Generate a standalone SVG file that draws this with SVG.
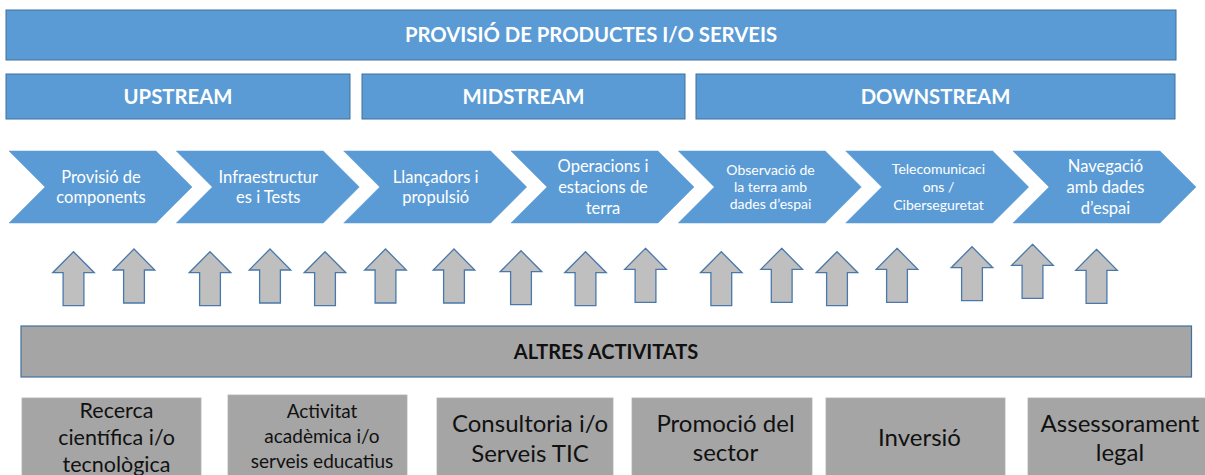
<svg xmlns="http://www.w3.org/2000/svg" xmlns:xlink="http://www.w3.org/1999/xlink" width="1205" height="475" viewBox="0 0 1205 475">
<style>
.band{fill:#5b9bd5;stroke:#41719c;stroke-width:1}
.chev{fill:#5b9bd5;stroke:#5b9bd5;stroke-width:0.5}
.hdr{font-family:Lato,"Liberation Sans",sans-serif;font-weight:bold;fill:#ffffff;text-anchor:middle;font-size:20.3px}
.ct{font-family:Lato,"Liberation Sans",sans-serif;fill:#ffffff;text-anchor:middle;font-size:16.5px}
.cs{font-family:Lato,"Liberation Sans",sans-serif;fill:#ffffff;text-anchor:middle;font-size:14px}
.up{fill:#bfbfbf;stroke:#4a78aa;stroke-width:1.3}
.gbar{fill:#a5a5a5;stroke:#41719c;stroke-width:1.2}
.gbox{fill:#a5a5a5;stroke:#b0b0b0;stroke-width:0.8}
.bt{font-family:Lato,"Liberation Sans",sans-serif;fill:#111111;text-anchor:middle}
</style>
<defs>
<path id="uparrow" class="up" d="M0,0 L20.8,21 L10.4,21 L10.4,54 L-10.4,54 L-10.4,21 L-20.8,21 Z"/>
</defs>

<g id="provisio">
<rect class="band" x="6" y="10" width="1170" height="50"/>
<text class="hdr" x="591" y="42">PROVISIÓ DE PRODUCTES I/O SERVEIS</text>
</g>
<g id="upstream">
<rect class="band" x="6" y="74" width="344" height="45"/>
<text class="hdr" x="178" y="104">UPSTREAM</text>
</g>
<g id="midstream">
<rect class="band" x="362" y="74" width="323" height="45"/>
<text class="hdr" x="523.5" y="104">MIDSTREAM</text>
</g>
<g id="downstream">
<rect class="band" x="696" y="74" width="479" height="45"/>
<text class="hdr" x="935.5" y="104">DOWNSTREAM</text>
</g>

<g id="chev1">
<path class="chev" d="M9,151 L156,151 L192,187 L156,223 L9,223 L45,187 Z"/>
<text class="ct" x="101" y="183">Provisió de</text>
<text class="ct" x="101" y="203">components</text>
</g>
<g id="chev2">
<path class="chev" d="M176.3,151 L323.3,151 L359.3,187 L323.3,223 L176.3,223 L212.3,187 Z"/>
<text class="ct" x="268.3" y="183">Infraestructur</text>
<text class="ct" x="268.3" y="203">es i Tests</text>
</g>
<g id="chev3">
<path class="chev" d="M343.7,151 L490.7,151 L526.7,187 L490.7,223 L343.7,223 L379.7,187 Z"/>
<text class="ct" x="435.7" y="183">Llançadors i</text>
<text class="ct" x="435.7" y="203">propulsió</text>
</g>
<g id="chev4">
<path class="chev" d="M511,151 L658,151 L694,187 L658,223 L511,223 L547,187 Z"/>
<text class="ct" x="603" y="172">Operacions i</text>
<text class="ct" x="603" y="193">estacions de</text>
<text class="ct" x="603" y="214">terra</text>
</g>
<g id="chev5">
<path class="chev" d="M678.3,151 L825.3,151 L861.3,187 L825.3,223 L678.3,223 L714.3,187 Z"/>
<text class="cs" x="770.5" y="175">Observació de</text>
<text class="cs" x="770.5" y="192">la terra amb</text>
<text class="cs" x="770.5" y="209">dades d’espai</text>
</g>
<g id="chev6">
<path class="chev" d="M845.7,151 L992.7,151 L1028.7,187 L992.7,223 L845.7,223 L881.7,187 Z"/>
<text class="cs" x="938.5" y="174">Telecomunicaci</text>
<text class="cs" x="938.5" y="192">ons /</text>
<text class="cs" x="938.5" y="210">Ciberseguretat</text>
</g>
<g id="chev7">
<path class="chev" d="M1013,151 L1160,151 L1196,187 L1160,223 L1013,223 L1049,187 Z"/>
<text class="ct" x="1105.5" y="172">Navegació</text>
<text class="ct" x="1105.5" y="193">amb dades</text>
<text class="ct" x="1105.5" y="214">d’espai</text>
</g>

<g id="connectors">
<use href="#uparrow" x="73.5" y="251.7"/>
<use href="#uparrow" x="134" y="249"/>
<use href="#uparrow" x="210" y="251.7"/>
<use href="#uparrow" x="270" y="249"/>
<use href="#uparrow" x="325" y="251.7"/>
<use href="#uparrow" x="385.5" y="249"/>
<use href="#uparrow" x="454" y="249"/>
<use href="#uparrow" x="521" y="250.7"/>
<use href="#uparrow" x="585.5" y="251.7"/>
<use href="#uparrow" x="645.5" y="248.3"/>
<use href="#uparrow" x="721.3" y="251.7"/>
<use href="#uparrow" x="781.7" y="248.3"/>
<use href="#uparrow" x="837" y="251.7"/>
<use href="#uparrow" x="897" y="248.3"/>
<use href="#uparrow" x="972" y="246.7"/>
<use href="#uparrow" x="1032.5" y="244.3"/>
<use href="#uparrow" x="1096.5" y="249.3"/>
</g>

<g id="altres">
<rect class="gbar" x="21" y="326" width="1170.5" height="51"/>
<text class="bt" x="606" y="359" font-size="20" font-weight="bold" fill="#000000">ALTRES ACTIVITATS</text>
</g>

<g id="recerca">
<rect class="gbox" x="22" y="398" width="179" height="90"/>
<text class="bt" x="116.5" y="418" font-size="21.5">Recerca</text>
<text class="bt" x="116.5" y="445" font-size="21.5">científica i/o</text>
<text class="bt" x="116.5" y="472" font-size="21.5">tecnològica</text>
</g>
<g id="academica">
<rect class="gbox" x="228" y="395" width="179" height="90"/>
<text class="bt" x="322" y="417.5" font-size="19">Activitat</text>
<text class="bt" x="322" y="442.5" font-size="19">acadèmica i/o</text>
<text class="bt" x="322" y="467.5" font-size="19">serveis educatius</text>
</g>
<g id="consultoria">
<rect class="gbox" x="437" y="398" width="176" height="90"/>
<text class="bt" x="530" y="432" font-size="24">Consultoria i/o</text>
<text class="bt" x="530" y="462" font-size="24">Serveis TIC</text>
</g>
<g id="promocio">
<rect class="gbox" x="632" y="398" width="180" height="90"/>
<text class="bt" x="725.5" y="432" font-size="24">Promoció del</text>
<text class="bt" x="725.5" y="461" font-size="24">sector</text>
</g>
<g id="inversio">
<rect class="gbox" x="826" y="398" width="179" height="90"/>
<text class="bt" x="919.5" y="446" font-size="24">Inversió</text>
</g>
<g id="assessorament">
<rect class="gbox" x="1028" y="398" width="182" height="90"/>
<text class="bt" x="1120" y="432" font-size="24">Assessorament</text>
<text class="bt" x="1120" y="461" font-size="24">legal</text>
</g>
</svg>
